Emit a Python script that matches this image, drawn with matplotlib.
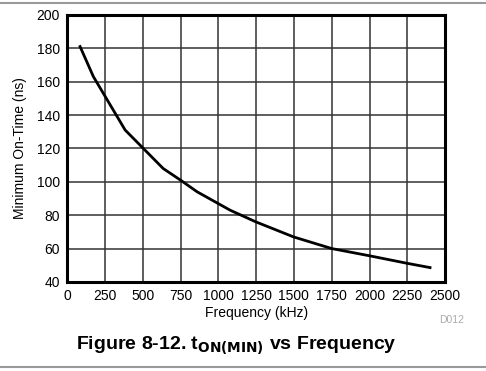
import numpy as np
from matplotlib import pyplot as plt
from matplotlib.lines import Line2D

# curve
freq_khz = [86, 174, 384, 635, 750, 860, 1078, 1248, 1497, 1750, 2004, 2247, 2400]
ton_min_ns = [181, 163, 131, 108, 101, 94, 83, 76, 67, 60, 55.6, 51.2, 48.6]

x_ticks = [0, 250, 500, 750, 1000, 1250, 1500, 1750, 2000, 2250, 2500]
y_ticks = [40, 60, 80, 100, 120, 140, 160, 180, 200]

plt.rcParams['font.family'] = ['Liberation Sans', 'DejaVu Sans']

fig = plt.figure(figsize=(4.86, 3.71), dpi=100)
ax = fig.add_axes([0.138, 0.240, 0.778, 0.720])

ax.plot(freq_khz, ton_min_ns, color='black', lw=2.0, zorder=3)

ax.set_xlim(0, 2500)
ax.set_ylim(40, 200)
ax.set_xticks(x_ticks)
ax.set_yticks(y_ticks)
ax.grid(True, color='#333333', lw=1.1)
ax.tick_params(length=0, labelsize=10, pad=5)
for s in ax.spines.values():
    s.set_linewidth(2.2)
    s.set_zorder(4)

ax.set_xlabel('Frequency (kHz)', fontsize=10, labelpad=2)
ax.set_ylabel('Minimum On-Time (ns)', fontsize=10, labelpad=7)

fig.text(0.930, 0.137, 'D012', fontsize=7.5, color='#aaaaaa', ha='center', va='center')
fig.text(0.486, 0.068, r'Figure 8-12. t$_{\mathbf{ON(MIN)}}$ vs Frequency',
         fontsize=14, fontweight='bold', ha='center', va='center')

# thin grey rules at top and bottom of the page
fig.add_artist(Line2D([0, 1], [0.993, 0.993], color='#999999', lw=1.5, transform=fig.transFigure))
fig.add_artist(Line2D([0, 1], [0.011, 0.011], color='#999999', lw=1.5, transform=fig.transFigure))

fig.savefig('out.png', dpi=100)
